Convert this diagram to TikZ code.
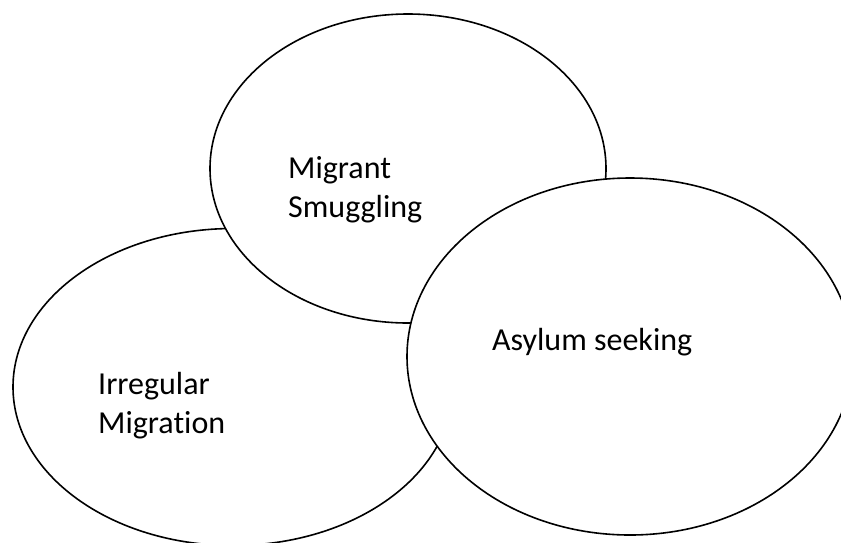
\documentclass[tikz,border=0pt]{standalone}
\usepackage{fontspec}
\setmainfont{Carlito}[Ligatures=NoCommon]
\usetikzlibrary{shapes.geometric}
\tikzset{
  circ/.style={ellipse, draw=black, fill=white, line width=1.6pt, inner sep=0pt},
  lbl/.style={anchor=base west, inner sep=0pt, align=left, font=\fontsize{32}{39}\selectfont}
}
\begin{document}
\begin{tikzpicture}[x=1pt,y=-1pt]
\path[use as bounding box] (0,0) rectangle (841,542);
\clip (0,0) rectangle (841,542);
\fill[white] (0,0) rectangle (841,542);
\node[circ, minimum width=440pt, minimum height=317pt] (irr) at (233,387) {};
\node[circ, minimum width=396pt, minimum height=309pt] (smug) at (408,168.5) {};
\node[circ, minimum width=446pt, minimum height=357pt] (asyl) at (630,356.5) {};
\node[lbl] (tsmug) at (288,217) {Migrant\\Smuggling};
\node[lbl] (tirr) at (98,433) {Irregular\\Migration};
\node[lbl] (tasyl) at (492,350) {Asylum seeking};
\end{tikzpicture}
\end{document}
